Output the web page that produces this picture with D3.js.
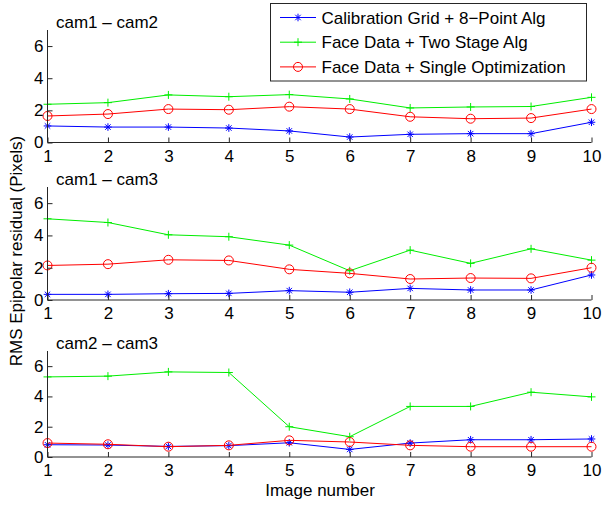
<!DOCTYPE html>
<html><head><meta charset="utf-8">
<script src="https://cdn.jsdelivr.net/npm/d3@7"></script>
<style>body{margin:0;background:#fff}svg{display:block}text{font-family:"Liberation Sans",Arial,Helvetica,sans-serif}</style>
</head><body><svg id="c" width="607" height="506"></svg>
<script>
const images = [1,2,3,4,5,6,7,8,9,10];
const seriesNames = ["Calibration Grid + 8\u2212Point Alg","Face Data + Two Stage Alg","Face Data + Single Optimization"];
const seriesColors = ["#0000ff","#00ee00","#ff0000"];
const seriesMarkers = ["star","plus","circle"];
const panelTitles = ["cam1 \u2013 cam2","cam1 \u2013 cam3","cam2 \u2013 cam3"];
const yTicks = [0,2,4,6];
// panel 1
const p1Grid  = [1.03,0.96,0.96,0.90,0.72,0.34,0.51,0.55,0.55,1.26];
const p1Two   = [2.38,2.48,2.96,2.85,2.98,2.71,2.15,2.21,2.24,2.81];
const p1Single= [1.65,1.77,2.08,2.04,2.23,2.08,1.60,1.48,1.52,2.08];
// panel 2
const p2Grid  = [0.35,0.35,0.39,0.41,0.58,0.48,0.72,0.62,0.62,1.55];
const p2Two   = [5.03,4.80,4.04,3.92,3.40,1.81,3.09,2.27,3.17,2.47];
const p2Single= [2.14,2.22,2.49,2.45,1.90,1.65,1.30,1.36,1.34,2.00];
// panel 3
const p3Grid  = [0.81,0.79,0.70,0.75,0.94,0.50,0.92,1.14,1.14,1.19];
const p3Two   = [5.29,5.34,5.62,5.58,2.00,1.34,3.34,3.34,4.28,3.97];
const p3Single= [0.92,0.84,0.68,0.77,1.10,0.99,0.77,0.68,0.68,0.68];

const panels = [
  {title: panelTitles[0], series:[p1Grid,p1Two,p1Single], top:30, bottom:142.5},
  {title: panelTitles[1], series:[p2Grid,p2Two,p2Single], top:187, bottom:300},
  {title: panelTitles[2], series:[p3Grid,p3Two,p3Single], top:351, bottom:457}
];
const FS = 17;
const svg = d3.select("#c");
const x = d3.scaleLinear().domain([1,10]).range([47.5,591.5]);
const axisColor = "#262626";

function marker(g, type, cx, cy, color){
  if(type==="circle"){
    g.append("circle").attr("cx",cx).attr("cy",cy).attr("r",4.5).attr("fill","none").attr("stroke",color).attr("stroke-width",1);
  } else if(type==="plus"){
    g.append("path").attr("d",`M${cx-4},${cy}H${cx+4}M${cx},${cy-4}V${cy+4}`).attr("stroke",color).attr("stroke-width",1).attr("fill","none");
  } else {
    const r=3.8, d=r*0.72;
    g.append("path").attr("d",`M${cx-r},${cy}H${cx+r}M${cx},${cy-r}V${cy+r}M${cx-d},${cy-d}L${cx+d},${cy+d}M${cx-d},${cy+d}L${cx+d},${cy-d}`).attr("stroke",color).attr("stroke-width",1).attr("fill","none");
  }
}

panels.forEach(p=>{
  const y = d3.scaleLinear().domain([0,7]).range([p.bottom,p.top]);
  const g = svg.append("g");
  p.series.forEach((vals,si)=>{
    const line = d3.line().x((d,i)=>x(images[i])).y(d=>y(d));
    g.append("path").attr("d",line(vals)).attr("fill","none").attr("stroke",seriesColors[si]).attr("stroke-width",1);
    vals.forEach((v,i)=>marker(g,seriesMarkers[si],x(images[i]),y(v),seriesColors[si]));
  });
  const xa = d3.axisBottom(x).tickValues(images).tickSize(-5).tickFormat(d3.format("d"));
  const xg = g.append("g").attr("transform",`translate(0,${p.bottom})`).call(xa);
  const ya = d3.axisLeft(y).tickValues(yTicks).tickSize(-5).tickPadding(4).tickFormat(d3.format("d"));
  const yg = g.append("g").attr("transform",`translate(${x(1)},0)`).call(ya);
  [xg,yg].forEach(a=>{
    a.select(".domain").attr("stroke",axisColor).attr("d", a===xg ? `M${x(1)},0H${x(10)}` : `M0,${p.bottom}V${p.top}`);
    a.selectAll(".tick line").attr("stroke",axisColor);
    a.selectAll(".tick text").attr("fill","#000").attr("font-size",FS).attr("font-family",'"Liberation Sans",Arial,sans-serif');
  });
  xg.selectAll(".tick text").attr("y",19).attr("dy",0);
  g.append("text").attr("x",56).attr("y",p.top-2).attr("font-size",FS).text(p.title);
});

svg.append("text").attr("x",320).attr("y",496).attr("text-anchor","middle").attr("font-size",FS).text("Image number");
svg.append("text").attr("transform","translate(22,251) rotate(-90)").attr("text-anchor","middle").attr("font-size",FS).text("RMS Epipolar residual (Pixels)");

const lg = svg.append("g");
lg.append("rect").attr("x",270.5).attr("y",3.5).attr("width",316).attr("height",77.5).attr("fill","#fff").attr("stroke",axisColor);
seriesNames.forEach((n,i)=>{
  const yy = 17.5 + i*24.7;
  lg.append("line").attr("x1",280).attr("x2",316).attr("y1",yy).attr("y2",yy).attr("stroke",seriesColors[i]);
  marker(lg, seriesMarkers[i], 298, yy, seriesColors[i]);
  lg.append("text").attr("x",321.5).attr("y",yy+6).attr("font-size",FS).text(n);
});
</script></body></html>
